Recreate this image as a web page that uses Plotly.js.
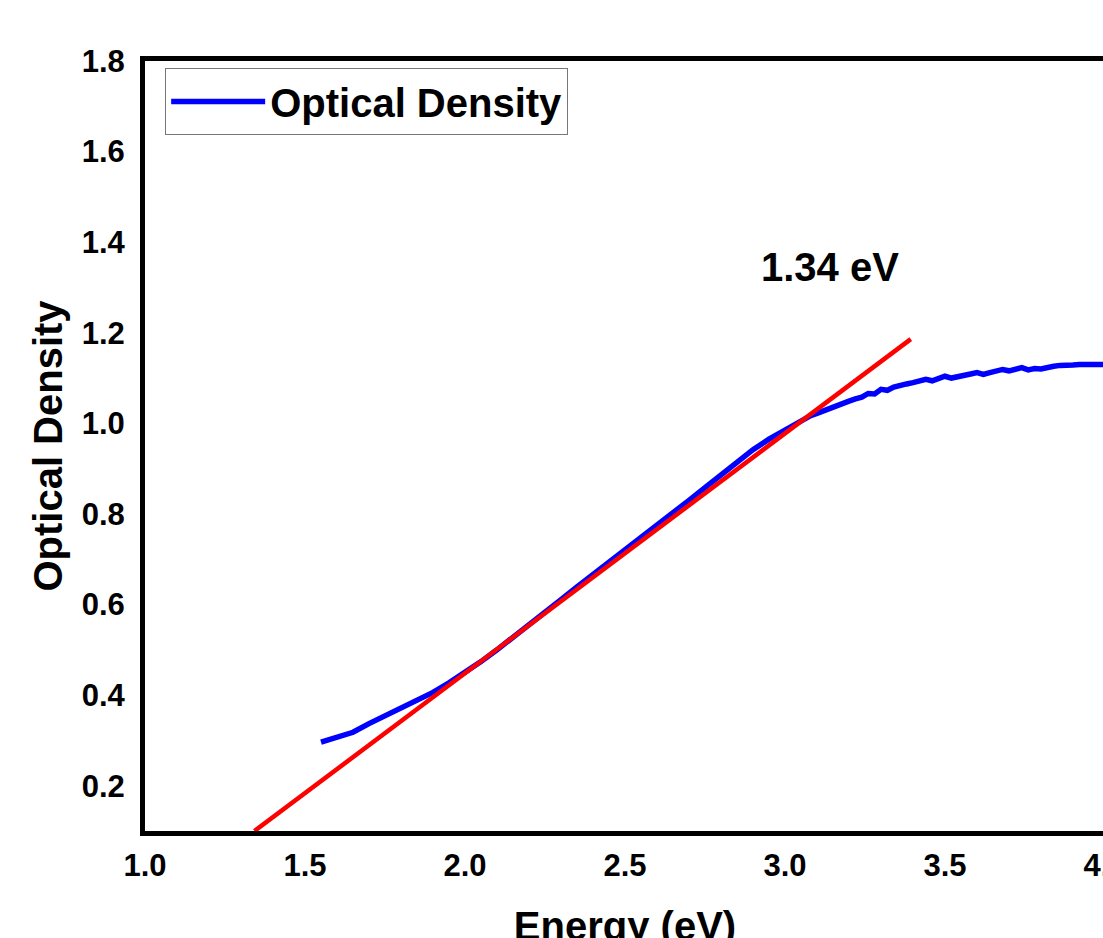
<!DOCTYPE html>
<html>
<head>
<meta charset="utf-8">
<script src="https://cdn.plot.ly/plotly-3.0.1.min.js"></script>
<style>
  html, body { margin: 0; padding: 0; overflow: hidden; background: #ffffff; }
  #chart { width: 1160px; height: 1000px; }
</style>
</head>
<body>
<div id="chart"></div>
<script>
const energy = [
  1.55, 1.58, 1.60, 1.62, 1.65, 1.70, 1.75, 1.80, 1.85, 1.90, 1.95,
  2.00, 2.05, 2.10, 2.15, 2.20, 2.25, 2.30, 2.35, 2.40, 2.45,
  2.50, 2.55, 2.60, 2.65, 2.70, 2.75, 2.80, 2.85, 2.90, 2.95,
  3.00, 3.02, 3.04, 3.06, 3.08, 3.10, 3.12, 3.14, 3.16, 3.18,
  3.20, 3.22, 3.24, 3.26, 3.28, 3.30, 3.32, 3.34, 3.36, 3.38,
  3.40, 3.42, 3.44, 3.46, 3.48, 3.50, 3.52, 3.54, 3.56, 3.58,
  3.60, 3.62, 3.64, 3.66, 3.68, 3.70, 3.72, 3.74, 3.76, 3.78,
  3.80, 3.82, 3.84, 3.86, 3.88, 3.90, 3.92, 3.94, 3.96, 3.98, 4.00
];
const opticalDensity = [
  0.296, 0.302, 0.306, 0.310, 0.318, 0.337, 0.354, 0.370, 0.387, 0.406, 0.427,
  0.450, 0.474, 0.500, 0.527, 0.555, 0.583, 0.611, 0.639, 0.666, 0.692,
  0.719, 0.746, 0.773, 0.801, 0.830, 0.858, 0.887, 0.916, 0.942, 0.965,
  0.986, 0.995, 1.003, 1.010, 1.017, 1.022, 1.028, 1.033, 1.039, 1.043,
  1.049, 1.054, 1.058, 1.066, 1.065, 1.075, 1.073, 1.080, 1.082, 1.087,
  1.090, 1.092, 1.097, 1.094, 1.099, 1.104, 1.100, 1.104, 1.106, 1.109,
  1.112, 1.108, 1.112, 1.114, 1.119, 1.116, 1.120, 1.123, 1.118, 1.121,
  1.120, 1.124, 1.126, 1.128, 1.127, 1.129, 1.130, 1.129, 1.131, 1.130, 1.130
];
// Linear (Tauc-type) extrapolation line
const fitEnergy = [1.342, 3.393];
const fitDensity = [0.100, 1.186];

const seriesName = 'Optical Density';
const annotationText = '1.34 eV';
const xTitle = 'Energy (eV)';
const yTitle = 'Optical Density';
const xRange = [1.0, 4.0];
const yRange = [0.1, 1.8];

const FONT = 'Liberation Sans, Arial, Helvetica, sans-serif';

const traces = [
  {
    x: energy, y: opticalDensity, type: 'scatter', mode: 'lines',
    name: seriesName,
    line: { color: '#0000ff', width: 5.5 }
  },
  {
    x: fitEnergy, y: fitDensity, type: 'scatter', mode: 'lines',
    showlegend: false, hoverinfo: 'skip',
    line: { color: '#ff0000', width: 4.5 }
  }
];

const layout = {
  width: 1160, height: 1000,
  margin: { l: 145, r: 55, t: 61, b: 169 },
  paper_bgcolor: '#ffffff', plot_bgcolor: '#ffffff',
  font: { family: FONT, color: '#000000' },
  showlegend: true,
  legend: {
    x: 0.021, y: 0.991, xanchor: 'left', yanchor: 'top',
    bgcolor: '#ffffff', bordercolor: '#777777', borderwidth: 1,
    font: { family: FONT, size: 40, color: '#000000', weight: 'bold' },
    itemwidth: 94
  },
  xaxis: {
    range: xRange, dtick: 0.5, tick0: 1.0, tickformat: '.1f',
    showgrid: false, zeroline: false,
    showline: true, linecolor: '#000000', linewidth: 5, mirror: true,
    ticks: '', ticklabelstandoff: 3,
    tickfont: { family: FONT, size: 31, color: '#000000', weight: 'bold' },
    title: { text: xTitle, standoff: 31,
      font: { family: FONT, size: 40, color: '#000000', weight: 'bold' } }
  },
  yaxis: {
    range: yRange, dtick: 0.2, tick0: 0, tickformat: '.1f',
    showgrid: false, zeroline: false,
    showline: true, linecolor: '#000000', linewidth: 5, mirror: true,
    ticks: '', ticklabelstandoff: 9,
    tickfont: { family: FONT, size: 31, color: '#000000', weight: 'bold' },
    title: { text: yTitle, standoff: 8,
      font: { family: FONT, size: 40, color: '#000000', weight: 'bold' } }
  },
  annotations: [
    {
      x: 3.141, y: 1.345, xref: 'x', yref: 'y',
      text: annotationText, showarrow: false,
      xanchor: 'center', yanchor: 'middle',
      font: { family: FONT, size: 40, color: '#000000', weight: 'bold' }
    }
  ]
};

Plotly.newPlot('chart', traces, layout, { displayModeBar: false, staticPlot: true });
</script>
</body>
</html>
